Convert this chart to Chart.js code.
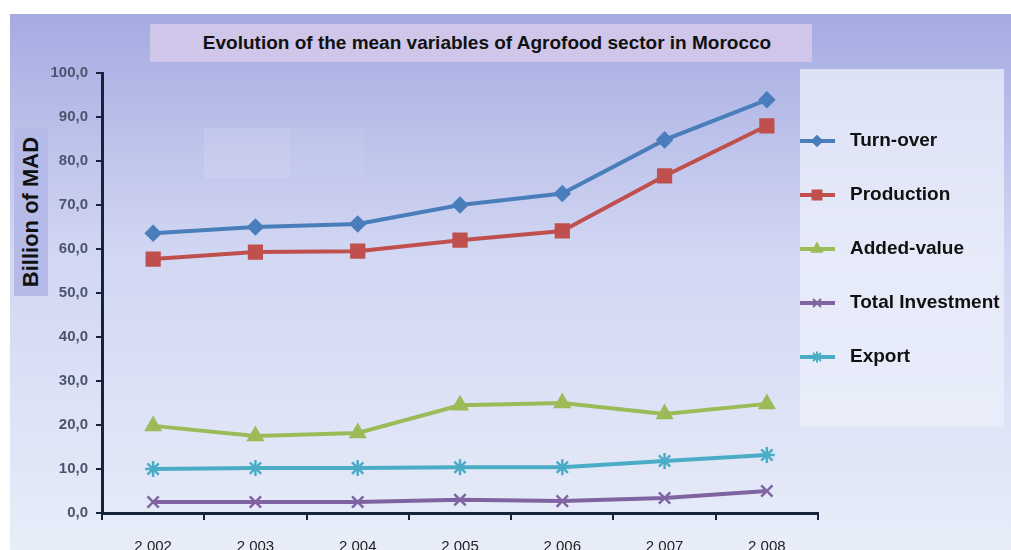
<!DOCTYPE html>
<html>
<head>
<meta charset="utf-8">
<script src="https://cdn.jsdelivr.net/npm/chart.js@4.4.1/dist/chart.umd.min.js"></script>
<style>
  html, body { margin: 0; padding: 0; background: #fff; }
  #wrap { position: relative; width: 1011px; height: 550px; overflow: hidden; font-family: 'Liberation Sans', Arial, sans-serif; }
  #c { position: absolute; left: 0; top: 0; }
  #title { position: absolute; left: 150px; top: 24px; width: 662px; height: 38px; background: #cfc6e9;
    font-weight: bold; font-size: 19px; color: #111; line-height: 38px; text-align: center; padding-left: 12px; box-sizing: border-box; }
  #ylab { position: absolute; left: 14px; top: 128px; width: 34px; height: 168px; background: #b6bae8; }
  #ylab span { position: absolute; left: 50%; top: 50%; transform: translate(-50%, -50%) rotate(-90deg);
    white-space: nowrap; font-weight: bold; font-size: 22px; color: #111; }
</style>
</head>
<body>
<div id="wrap">
  <canvas id="c" width="1011" height="550"></canvas>
  <div id="title">Evolution of the mean variables of Agrofood sector in Morocco</div>
  <div id="ylab"><span>Billion of MAD</span></div>
</div>
<script>
// ===== AGROFOOD SECTOR, MOROCCO (billion MAD) =====
var years = ['2 002', '2 003', '2 004', '2 005', '2 006', '2 007', '2 008'];
var turnOver   = [63.6, 65.0, 65.7, 70.0, 72.6, 84.8, 93.9];
var production = [57.7, 59.3, 59.5, 62.0, 64.1, 76.6, 88.0];
var addedValue = [19.8, 17.5, 18.2, 24.5, 25.0, 22.5, 24.8];
var investment = [2.5, 2.5, 2.5, 3.0, 2.7, 3.4, 5.0];
var exportVals = [10.0, 10.2, 10.2, 10.4, 10.4, 11.8, 13.2];

var axisCol = '#17223d';
var tickFont = { family: "'Liberation Sans', Arial, sans-serif", size: 15, weight: 'bold' };

// slide background + legend panel
var bgPlugin = {
  id: 'slideBg',
  beforeDraw: function(chart) {
    var ctx = chart.ctx;
    ctx.save();
    ctx.fillStyle = '#ffffff';
    ctx.fillRect(0, 0, 1011, 550);
    var g = ctx.createLinearGradient(0, 14, 0, 550);
    g.addColorStop(0, '#a5abe1');
    g.addColorStop(0.45, '#d2d7f3');
    g.addColorStop(1, '#e8edf9');
    ctx.fillStyle = g;
    ctx.fillRect(10, 14, 1001, 536);
    ctx.fillStyle = 'rgba(255,255,255,0.13)';
    ctx.fillRect(204, 128, 86, 50);
    ctx.fillStyle = 'rgba(255,255,255,0.06)';
    ctx.fillRect(290, 128, 75, 50);
    ctx.fillStyle = 'rgba(236,240,251,0.75)';
    ctx.fillRect(800, 69, 204, 358);
    ctx.restore();
  }
};

// legend on the right, drawn from the dataset styles
var legendPlugin = {
  id: 'sideLegend',
  afterDraw: function(chart) {
    var ctx = chart.ctx;
    ctx.save();
    chart.data.datasets.forEach(function(ds, i) {
      var y = 141 + 54 * i;
      ctx.strokeStyle = ds.borderColor;
      ctx.fillStyle = ds.borderColor;
      ctx.lineWidth = 4;
      ctx.beginPath();
      ctx.moveTo(800, y);
      ctx.lineTo(835, y);
      ctx.stroke();
      ctx.lineWidth = 2;
      Chart.helpers.drawPoint(ctx, {
        pointStyle: ds.pointStyle, radius: ds.pointRadius * 0.7, rotation: 0,
        borderWidth: 2
      }, 817, y);
      ctx.font = "bold 19px 'Liberation Sans', Arial, sans-serif";
      ctx.fillStyle = '#111';
      ctx.textBaseline = 'middle';
      ctx.textAlign = 'left';
      ctx.fillText(ds.label, 850, y);
    });
    ctx.restore();
  }
};

function series(label, data, color, style, radius) {
  return { label: label, data: data, borderColor: color, backgroundColor: color,
    borderWidth: 4, pointStyle: style, pointRadius: radius, pointBorderWidth: 2.5,
    pointBackgroundColor: color, pointBorderColor: color, tension: 0 };
}

new Chart(document.getElementById('c').getContext('2d'), {
  type: 'line',
  data: { labels: years, datasets: [
    series('Turn-over', turnOver, '#4a7ebb', 'rectRot', 7),
    series('Production', production, '#c0504d', 'rect', 9),
    series('Added-value', addedValue, '#9bbb59', 'triangle', 8),
    series('Total Investment', investment, '#8064a2', 'crossRot', 8),
    series('Export', exportVals, '#4bacc6', 'star', 8)
  ]},
  options: {
    responsive: false, animation: false, devicePixelRatio: 1,
    layout: { padding: { left: 0, right: 193, top: 73, bottom: 0 } },
    plugins: { legend: { display: false }, tooltip: { enabled: false } },
    scales: {
      x: {
        offset: true,
        afterFit: function(s) { s.height = 37; },
        border: { display: true, color: axisCol, width: 3 },
        grid: { offset: true, drawOnChartArea: false, drawTicks: true, tickLength: 7, color: axisCol, lineWidth: 2 },
        ticks: { padding: 18, color: '#222', font: { family: "'Liberation Sans', Arial, sans-serif", size: 15 } }
      },
      y: {
        min: 0, max: 100,
        afterFit: function(s) { s.width = 102; },
        border: { display: true, color: axisCol, width: 3 },
        grid: { drawOnChartArea: false, drawTicks: true, tickLength: 6, color: axisCol, lineWidth: 2 },
        ticks: { stepSize: 10, padding: 8, color: '#4a546f', font: tickFont,
          callback: function(v) { return v.toFixed(1).replace('.', ','); } }
      }
    }
  },
  plugins: [bgPlugin, legendPlugin]
});
</script>
</body>
</html>
